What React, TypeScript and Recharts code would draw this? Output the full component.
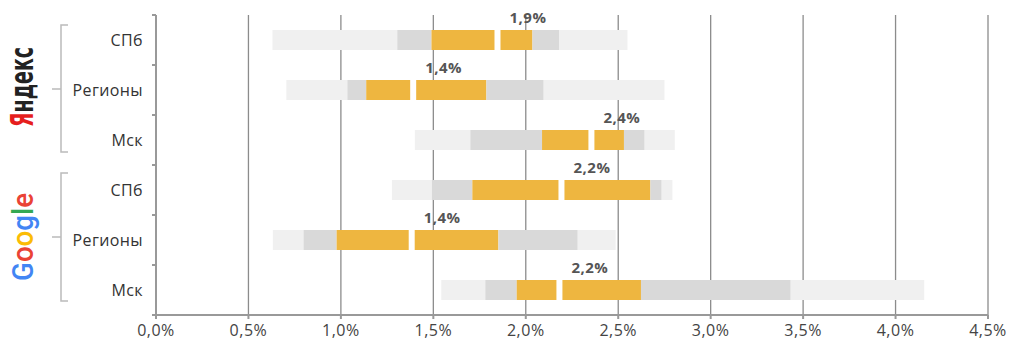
import * as React from "react";
import { BarChart, Bar, XAxis, YAxis, CartesianGrid } from "recharts";

// rows top → bottom: Яндекс (СПб, Регионы, Мск), Google (СПб, Регионы, Мск)
const rowIds = ["ya-spb", "ya-reg", "ya-msk", "go-spb", "go-reg", "go-msk"];
const rowNames = ["СПб", "Регионы", "Мск", "СПб", "Регионы", "Мск"];

// distribution per row, in %
const minValues = [0.63, 0.705, 1.4, 1.276, 0.632, 1.543];
const p10Values = [1.305, 1.035, 1.7, 1.492, 0.798, 1.781];
const q1Values = [1.49, 1.137, 2.088, 1.711, 0.977, 1.951];
const medianValues = [1.847, 1.391, 2.355, 2.193, 1.383, 2.182];
const q3Values = [2.036, 1.787, 2.531, 2.674, 1.852, 2.623];
const p90Values = [2.18, 2.097, 2.643, 2.735, 2.281, 3.433];
const maxValues = [2.55, 2.75, 2.806, 2.793, 2.486, 4.155];
const medianLabels = ["1,9%", "1,4%", "2,4%", "2,2%", "1,4%", "2,2%"];

const xTicks = [0, 0.5, 1, 1.5, 2, 2.5, 3, 3.5, 4, 4.5];

const LIGHT = "#f0f0f0";
const DARK = "#d9d9d9";
const YELLOW = "#eeb640";
const AXIS = "#999";
const FONT = "'Open Sans', sans-serif";

const data = rowIds.map((id, i) => ({
  id,
  label: medianLabels[i],
  base: minValues[i],
  light1: p10Values[i] - minValues[i],
  dark1: q1Values[i] - p10Values[i],
  low: medianValues[i] - q1Values[i],
  high: q3Values[i] - medianValues[i],
  dark2: p90Values[i] - q3Values[i],
  light2: maxValues[i] - p90Values[i],
}));

const fmt = (v: number) => v.toFixed(1).replace(".", ",") + "%";

// yellow part left of the median, with half of the white gap cut off
function LowShape(p: any) {
  return <rect x={p.x} y={p.y} width={Math.max(p.width - 3, 0)} height={p.height} fill={p.fill} />;
}

// yellow part right of the median + median label above it
function HighShape(p: any) {
  return (
    <g>
      <rect x={p.x + 3} y={p.y} width={Math.max(p.width - 3, 0)} height={p.height} fill={p.fill} />
      <text
        x={p.x + 12}
        y={p.y - 7}
        fontSize={15}
        fontWeight={700}
        letterSpacing={0.5}
        fill="#555"
        fontFamily={FONT}
      >
        {p.payload.label}
      </text>
    </g>
  );
}

function RowTick(p: any) {
  const i = rowIds.indexOf(p.payload.value);
  const band = 50;
  return (
    <g>
      <line x1={p.x - 4} x2={p.x} y1={p.y - band / 2} y2={p.y - band / 2} stroke={AXIS} strokeWidth={2} />
      {i === rowIds.length - 1 && (
        <line x1={p.x - 4} x2={p.x} y1={p.y + band / 2} y2={p.y + band / 2} stroke={AXIS} strokeWidth={2} />
      )}
      <text
        x={p.x - 13}
        y={p.y}
        dy="0.35em"
        textAnchor="end"
        fontSize={16}
        letterSpacing={0.4}
        fill="#333"
        fontFamily={FONT}
      >
        {rowNames[i]}
      </text>
    </g>
  );
}

function Brackets() {
  const c = "#bbb";
  return (
    <svg width={1024} height={353} style={{ position: "absolute", left: 0, top: 0, pointerEvents: "none" }}>
      <path d="M68,25 H61 V152 H68 M61,89 H52" fill="none" stroke={c} strokeWidth={1.5} />
      <path d="M68,173 H61 V301 H68 M61,237 H52" fill="none" stroke={c} strokeWidth={1.5} />
      <text
        x={33}
        y={87}
        transform="rotate(-90 33 87)"
        textAnchor="middle"
        fontSize={32}
        fontWeight={700}
        fontFamily="'DejaVu Sans Condensed', 'Liberation Sans Narrow', sans-serif"
        textLength={80}
        lengthAdjust="spacingAndGlyphs"
      >
        <tspan fill="#e61e1e">Я</tspan>
        <tspan fill="#222">ндекс</tspan>
      </text>
      <text
        x={33}
        y={237}
        transform="rotate(-90 33 237)"
        textAnchor="middle"
        fontSize={29}
        fontWeight={500}
        fontFamily="Roboto, sans-serif"
        textLength={88}
        lengthAdjust="spacingAndGlyphs"
      >
        <tspan fill="#4285f4">G</tspan>
        <tspan fill="#ea4335">o</tspan>
        <tspan fill="#fbbc05">o</tspan>
        <tspan fill="#4285f4">g</tspan>
        <tspan fill="#34a853">l</tspan>
        <tspan fill="#ea4335">e</tspan>
      </text>
    </svg>
  );
}

export default function App() {
  return (
    <div style={{ position: "absolute", left: 0, top: 0, width: 1024, height: 353, background: "#fff", fontFamily: FONT }}>
      <BarChart
        width={1024}
        height={353}
        data={data}
        layout="vertical"
        margin={{ top: 15, right: 36, left: 0, bottom: 8 }}
        barSize={20}
      >
        <CartesianGrid horizontal={false} stroke="#8c8c8c" strokeWidth={1.3} />
        <XAxis
          type="number"
          domain={[0, 4.5]}
          ticks={xTicks}
          tickFormatter={fmt}
          height={30}
          stroke={AXIS}
          strokeWidth={2}
          tickSize={4}
          tickMargin={6}
          tick={{ fontSize: 16, fill: "#444", fontFamily: FONT, letterSpacing: 0.5 }}
        />
        <YAxis
          type="category"
          dataKey="id"
          width={156}
          stroke={AXIS}
          strokeWidth={2}
          tickLine={false}
          tickSize={0}
          tickMargin={0}
          tick={<RowTick />}
        />
        <Bar dataKey="base" stackId="a" fill="transparent" isAnimationActive={false} />
        <Bar dataKey="light1" stackId="a" fill={LIGHT} isAnimationActive={false} />
        <Bar dataKey="dark1" stackId="a" fill={DARK} isAnimationActive={false} />
        <Bar dataKey="low" stackId="a" fill={YELLOW} shape={LowShape} isAnimationActive={false} />
        <Bar dataKey="high" stackId="a" fill={YELLOW} shape={HighShape} isAnimationActive={false} />
        <Bar dataKey="dark2" stackId="a" fill={DARK} isAnimationActive={false} />
        <Bar dataKey="light2" stackId="a" fill={LIGHT} isAnimationActive={false} />
      </BarChart>
      <Brackets />
    </div>
  );
}
